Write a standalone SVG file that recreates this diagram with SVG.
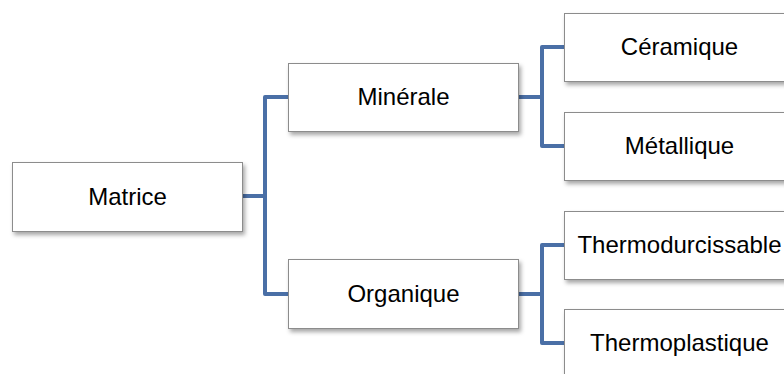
<svg xmlns="http://www.w3.org/2000/svg" width="784" height="374" viewBox="0 0 784 374">
<defs>
<filter id="sh" x="-10%" y="-20%" width="130%" height="160%">
<feDropShadow dx="2" dy="3" stdDeviation="2" flood-color="#000" flood-opacity="0.35"/>
</filter>
</defs>
<style>
.box{fill:#fff;stroke:#8c8c8c;stroke-width:1;filter:url(#sh)}
.lbl{font-family:"Liberation Sans",Arial,sans-serif;font-size:24px;fill:#000;text-anchor:middle}
.con{fill:none;stroke:#4a6fa6;stroke-width:4;stroke-linejoin:round;stroke-linecap:butt}
</style>
<rect width="784" height="374" fill="#fff"/>
<g id="connectors">
<path class="con" d="M243,196 H265"/>
<path class="con" d="M288,97 H265 V294 H288"/>
<path class="con" d="M518,97 H542"/>
<path class="con" d="M564,47 H542 V146 H564"/>
<path class="con" d="M518,294 H542"/>
<path class="con" d="M564,245 H542 V343 H564"/>
</g>
<g id="matrice">
<rect class="box" x="12.5" y="162.5" width="230" height="69"/>
<text class="lbl" x="127.5" y="205">Matrice</text>
</g>
<g id="minerale">
<rect class="box" x="288.5" y="63.5" width="230" height="68"/>
<text class="lbl" x="403.5" y="105">Minérale</text>
</g>
<g id="organique">
<rect class="box" x="288.5" y="259.5" width="230" height="69"/>
<text class="lbl" x="403.5" y="302">Organique</text>
</g>
<g id="ceramique">
<rect class="box" x="564.5" y="13.5" width="230" height="68"/>
<text class="lbl" x="679.5" y="55">Céramique</text>
</g>
<g id="metallique">
<rect class="box" x="564.5" y="112.5" width="230" height="68"/>
<text class="lbl" x="679.5" y="154">Métallique</text>
</g>
<g id="thermodurcissable">
<rect class="box" x="564.5" y="211.5" width="230" height="68"/>
<text class="lbl" x="679.5" y="253">Thermodurcissable</text>
</g>
<g id="thermoplastique">
<rect class="box" x="564.5" y="309.5" width="230" height="68"/>
<text class="lbl" x="679.5" y="351">Thermoplastique</text>
</g>
</svg>
